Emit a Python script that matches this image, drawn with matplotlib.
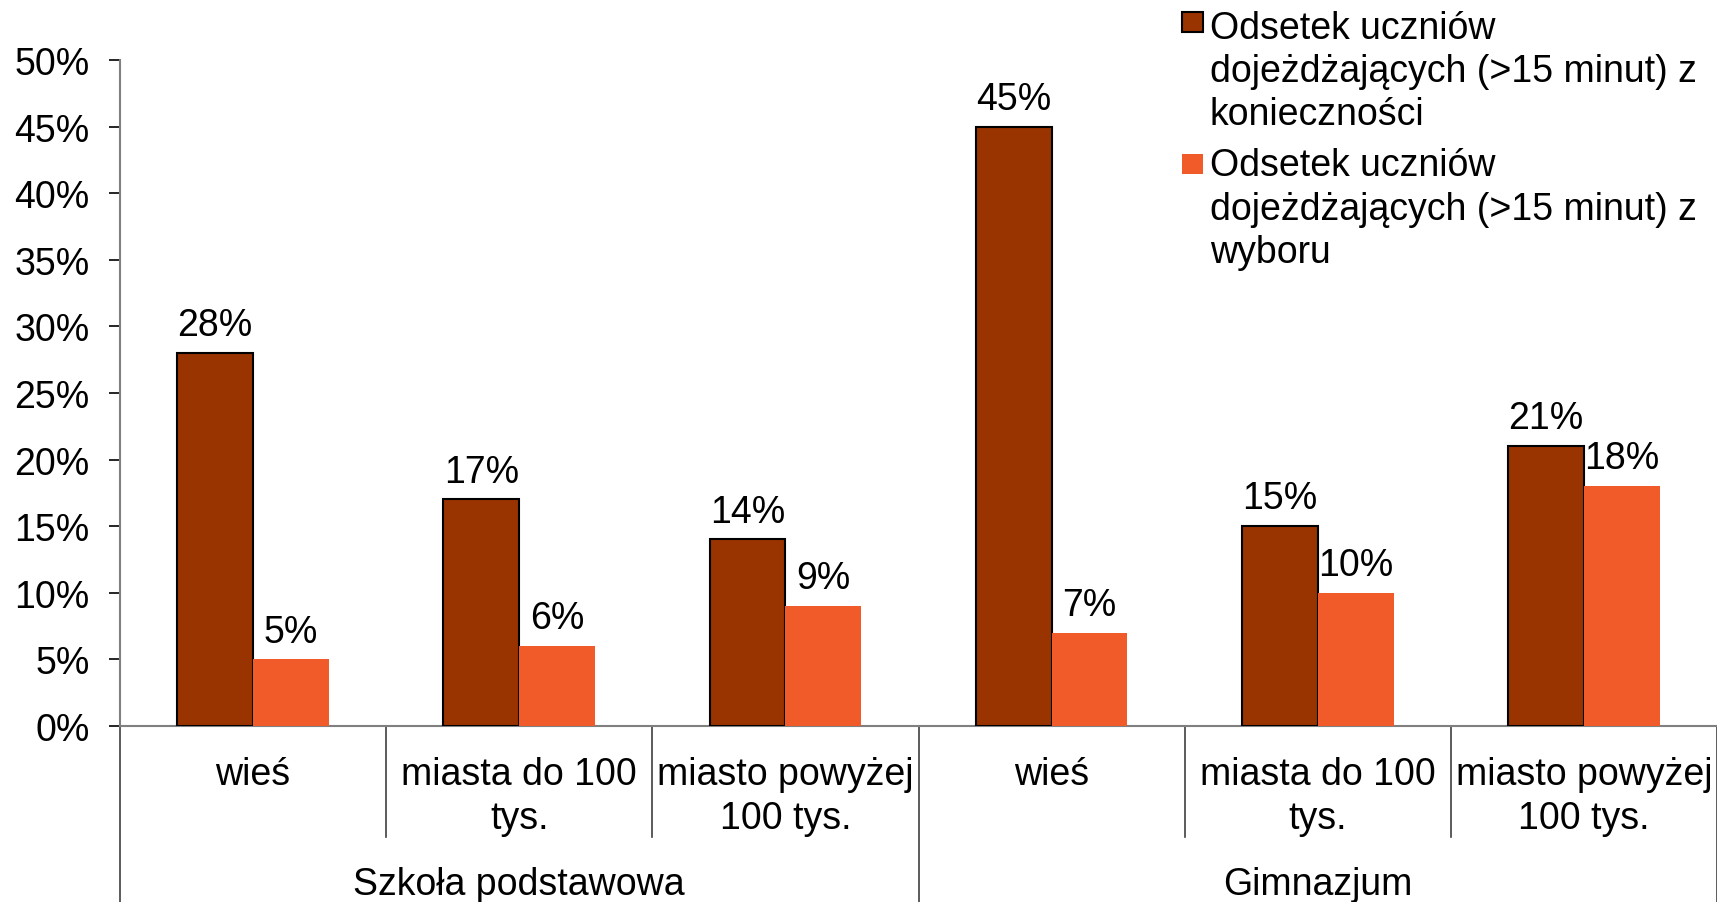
import matplotlib
matplotlib.use("Agg")
import matplotlib.pyplot as plt
from matplotlib.patches import Rectangle
import numpy as np

plt.rcParams['font.family'] = ['Liberation Sans', 'DejaVu Sans']

categories = ["wieś", "miasta do 100\ntys.", "miasto powyżej\n100 tys.",
              "wieś", "miasta do 100\ntys.", "miasto powyżej\n100 tys."]
groups = ["Szkoła podstawowa", "Gimnazjum"]
series_names = ["Odsetek uczniów\ndojeżdżających (>15 minut) z\nkonieczności",
                "Odsetek uczniów\ndojeżdżających (>15 minut) z\nwyboru"]
koniecznosc = [28, 17, 14, 45, 15, 21]
wybor = [5, 6, 9, 7, 10, 18]
yticks = [0, 5, 10, 15, 20, 25, 30, 35, 40, 45, 50]

dark = "#993300"
orange = "#F15A29"
FS = 27

fig = plt.figure(figsize=(17.17, 9.03), dpi=100)
ax = fig.add_axes([0.0699, 0.195, 0.9301, 0.7375])

x = np.arange(len(categories))
w = 0.285
b1 = ax.bar(x - w / 2, koniecznosc, width=w, color=dark, edgecolor="black",
            linewidth=1.5, label=series_names[0], zorder=3)
b2 = ax.bar(x + w / 2, wybor, width=w, color=orange, edgecolor="none",
            label=series_names[1], zorder=3)

for bars, vals in ((b1, koniecznosc), (b2, wybor)):
    for r, v in zip(bars, vals):
        ax.annotate(f"{v}%", (r.get_x() + r.get_width() / 2, r.get_height()),
                    xytext=(0, 7), textcoords="offset points",
                    ha="center", va="bottom", fontsize=FS)

ax.set_xlim(-0.5, len(categories) - 0.5)
ax.set_ylim(0, 50)
ax.set_yticks(yticks)
ax.set_yticklabels([f"{t}%" for t in yticks], fontsize=FS)
ax.tick_params(axis="y", length=8, width=1.2, pad=14, color="black")
ax.set_xticks([])

for s in ("top", "right"):
    ax.spines[s].set_visible(False)
ax.spines["left"].set_color("#808080")
ax.spines["left"].set_linewidth(1.5)
ax.spines["bottom"].set_color("#808080")
ax.spines["bottom"].set_linewidth(1.5)

tr = ax.get_xaxis_transform()
for i in range(len(categories) + 1):
    xb = i - 0.5
    yb = -0.27 if i % 3 == 0 else -0.167
    ax.plot([xb, xb], [0, yb], transform=tr, color="#404040",
            lw=1.2, clip_on=False)

for i, c in enumerate(categories):
    ax.text(i, -0.045, c, transform=tr, ha="center", va="top", fontsize=FS,
            linespacing=1.275)
for g, name in enumerate(groups):
    ax.text(g * 3 + 1, -0.211, name, transform=tr, ha="center", va="top",
            fontsize=FS)

# legend (handles aligned with the first line of each label)
leg_items = [(series_names[0], dark, "black", 0.9635, 0.9883),
             (series_names[1], orange, "none", 0.8062, 0.8357)]
for label, fc, ec, ybox, ytxt in leg_items:
    fig.patches.append(Rectangle((0.6884, ybox), 0.0122, 0.0221,
                                 transform=fig.transFigure, facecolor=fc,
                                 edgecolor=ec, linewidth=1.5))
    fig.text(0.7047, ytxt, label, ha="left", va="top", fontsize=FS,
             linespacing=1.26)

fig.savefig("out.png", dpi=100)
